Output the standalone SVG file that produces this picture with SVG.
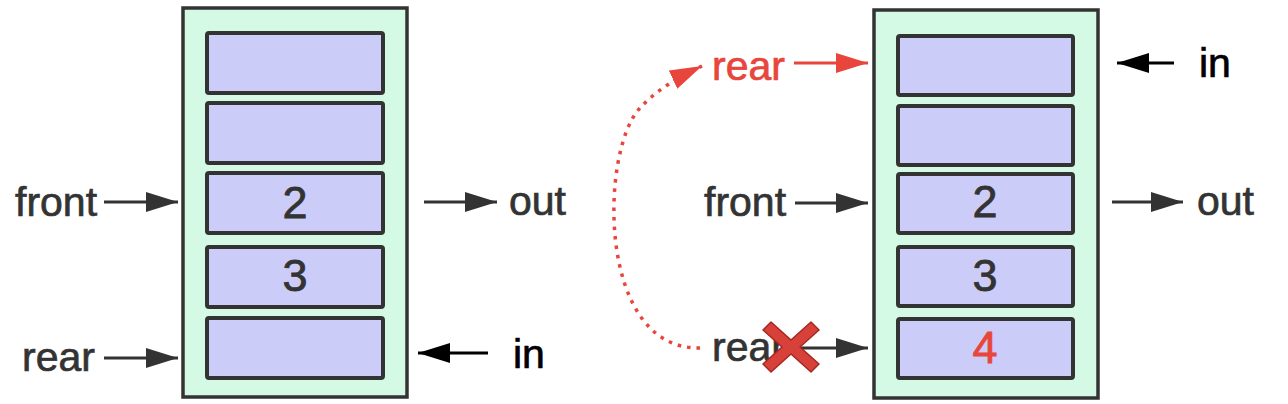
<svg xmlns="http://www.w3.org/2000/svg" width="1288" height="404" viewBox="0 0 1288 404">
<style>
.box{fill:#d4f9e4;stroke:#333;stroke-width:3.5}
.cell{fill:#ccccf9;stroke:#333;stroke-width:4}
.lbl{font-family:"Liberation Sans",Arial,sans-serif;font-size:41px;fill:#333;stroke:#333;stroke-width:0.7}
.num{font-family:"Liberation Sans",Arial,sans-serif;font-size:45px;fill:#333;stroke:#333;stroke-width:0.8;text-anchor:middle}
.ln{stroke:#333;stroke-width:3.2;fill:none}
.lnk{stroke:#000;stroke-width:3.2;fill:none}
.lnr{stroke:#e8453c;stroke-width:3.2;fill:none}
.blk{fill:#000;stroke:#000}
.red{fill:#e8453c;stroke:#e8453c}
</style>
<defs>
<marker id="ah" markerUnits="userSpaceOnUse" markerWidth="34" markerHeight="22" refX="32" refY="10" orient="auto"><path d="M0,0 L32,10 L0,20 z" fill="#333"/></marker>
<marker id="ahk" markerUnits="userSpaceOnUse" markerWidth="34" markerHeight="22" refX="32" refY="10" orient="auto"><path d="M0,0 L32,10 L0,20 z" fill="#000"/></marker>
<marker id="ahr" markerUnits="userSpaceOnUse" markerWidth="34" markerHeight="22" refX="32" refY="10" orient="auto"><path d="M0,0 L32,10 L0,20 z" fill="#e8453c"/></marker>
</defs>

<g id="queue-left">
<rect class="box" x="183" y="8" width="224" height="389"/>
<rect class="cell" x="207" y="33" width="176" height="60" rx="2"/>
<rect class="cell" x="207" y="103" width="176" height="60" rx="2"/>
<rect class="cell" x="207" y="173" width="176" height="60" rx="2"/>
<rect class="cell" x="207" y="247" width="176" height="60" rx="2"/>
<rect class="cell" x="207" y="318" width="176" height="60" rx="2"/>
<text class="num" x="295" y="218">2</text>
<text class="num" x="295" y="291">3</text>
</g>

<g id="labels-left">
<text class="lbl" x="15" y="216">front</text>
<text class="lbl" x="509" y="215">out</text>
<text class="lbl" x="22" y="371">rear</text>
<text class="lbl blk" x="513" y="368">in</text>
</g>

<g id="queue-right">
<rect class="box" x="874" y="10" width="224" height="388"/>
<rect class="cell" x="898" y="36" width="175" height="59" rx="2"/>
<rect class="cell" x="898" y="106" width="175" height="59" rx="2"/>
<rect class="cell" x="898" y="174" width="175" height="59" rx="2"/>
<rect class="cell" x="898" y="247" width="175" height="59" rx="2"/>
<rect class="cell" x="898" y="319" width="175" height="59" rx="2"/>
<text class="num" x="985" y="217">2</text>
<text class="num" x="985" y="291">3</text>
<text class="num red" x="985" y="363">4</text>
</g>

<g id="labels-right">
<text class="lbl red" x="712" y="80">rear</text>
<text class="lbl blk" x="1199" y="77">in</text>
<text class="lbl" x="704" y="216">front</text>
<text class="lbl" x="1197" y="215">out</text>
<text class="lbl" x="712" y="361">rear</text>
</g>

<g id="connectors">
<line class="ln" x1="104" y1="202" x2="178" y2="202" marker-end="url(#ah)"/>
<line class="ln" x1="424" y1="202" x2="497" y2="202" marker-end="url(#ah)"/>
<line class="ln" x1="104" y1="358" x2="178" y2="358" marker-end="url(#ah)"/>
<line class="lnk" x1="488" y1="353" x2="418" y2="353" marker-end="url(#ahk)"/>
<line class="lnr" x1="794" y1="63" x2="868" y2="63" marker-end="url(#ahr)"/>
<line class="lnk" x1="1174" y1="63" x2="1117" y2="63" marker-end="url(#ahk)"/>
<line class="ln" x1="795" y1="203" x2="868" y2="203" marker-end="url(#ah)"/>
<line class="ln" x1="1112" y1="202" x2="1183" y2="202" marker-end="url(#ah)"/>
<line class="ln" x1="797" y1="348" x2="868" y2="348" marker-end="url(#ah)"/>
<path d="M700,348 C596,350 600,150 640,108 C652,95 668,82 702,66" fill="none" stroke="#e8453c" stroke-width="3.5" stroke-dasharray="3.5 6" marker-end="url(#ahr)"/>
</g>

<g id="cross" transform="translate(791,347)">
<polygon points="-28,-17 -20,-25 0,-7 20,-25 28,-17 9,0 28,17 20,25 0,7 -20,25 -28,17 -9,0" fill="#d8403a" stroke="#a52820" stroke-width="1.5" stroke-linejoin="round"/>
</g>
</svg>
